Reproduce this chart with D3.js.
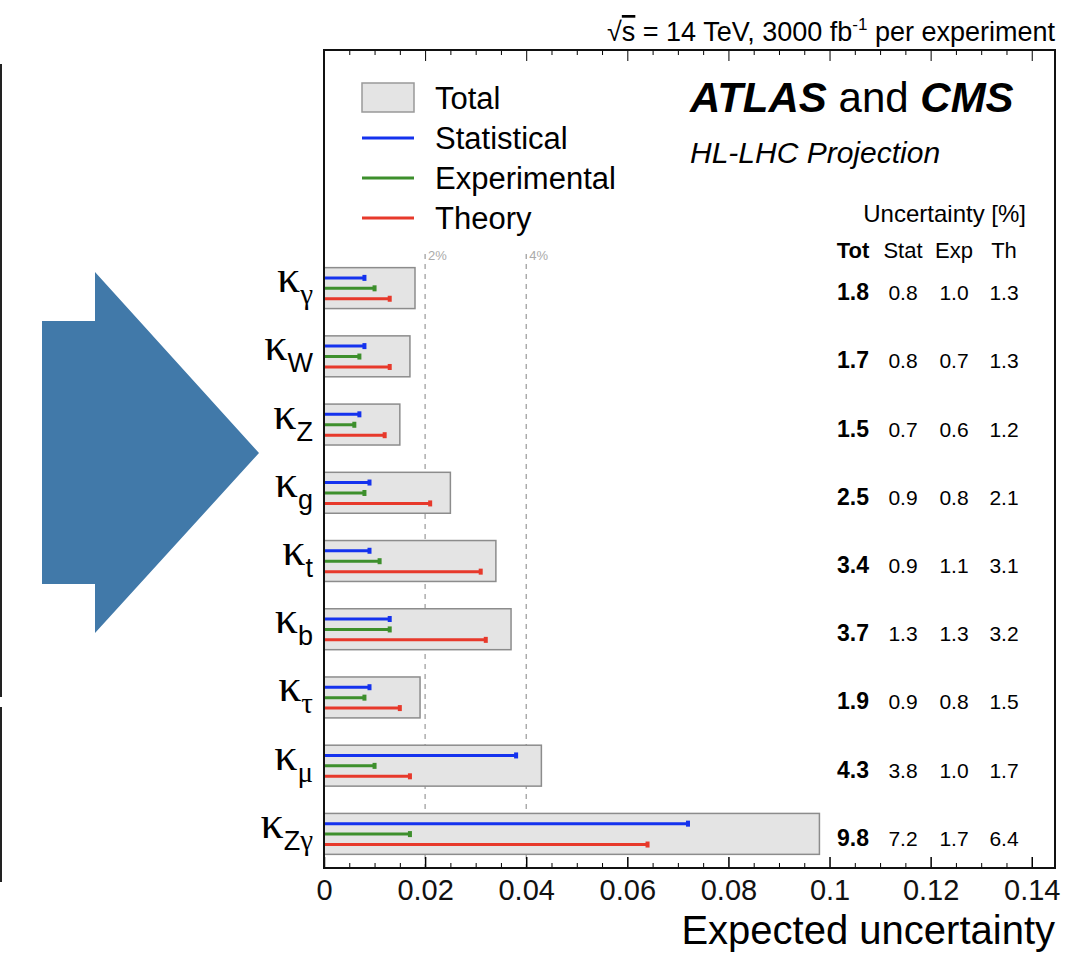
<!DOCTYPE html>
<html>
<head>
<meta charset="utf-8">
<script src="https://cdn.jsdelivr.net/npm/d3@7"></script>
<style>
  body { margin: 0; background: #fff; }
  svg { display: block; font-family: "Liberation Sans", Arial, Helvetica, sans-serif; }
</style>
</head>
<body>
<div id="vis-container"></div>
<script>
// Coupling modifiers (subscripts of kappa)
const couplings = ["γ", "W", "Z", "g", "t", "b", "τ", "μ", "Zγ"];
// Uncertainties in %
const totalUnc = [1.8, 1.7, 1.5, 2.5, 3.4, 3.7, 1.9, 4.3, 9.8];
const statUnc = [0.8, 0.8, 0.7, 0.9, 0.9, 1.3, 0.9, 3.8, 7.2];
const expUnc = [1.0, 0.7, 0.6, 0.8, 1.1, 1.3, 0.8, 1.0, 1.7];
const thUnc = [1.3, 1.3, 1.2, 2.1, 3.1, 3.2, 1.5, 1.7, 6.4];
const seriesNames = ["Statistical", "Experimental", "Theory"];
const seriesColors = ["#1432ee", "#3d8f2c", "#e7392b"];
const xTicks = [0, 0.02, 0.04, 0.06, 0.08, 0.1, 0.12, 0.14];
const guideLines = [0.02, 0.04];
const tableHeader = ["Tot", "Stat", "Exp", "Th"];

const width = 1085;
const height = 954;
const margin = { top: 50, right: 30, bottom: 86, left: 324 };

const svg = d3.select("#vis-container")
  .append("svg")
  .attr("width", width)
  .attr("height", height);

// Slide leftovers: thin edge line and blue arrow
svg.append("rect").attr("x", 0).attr("y", 64).attr("width", 2).attr("height", 633).attr("fill", "#222");
svg.append("rect").attr("x", 0).attr("y", 707).attr("width", 2).attr("height", 175).attr("fill", "#222");
svg.append("path")
  .attr("d", "M42,321 L95,321 L95,272 L259,453 L95,633 L95,584 L42,584 Z")
  .attr("fill", "#4179a9");

const plotBottom = height - margin.bottom;
const plotRight = width - margin.right;

// X scale
const xScale = d3.scaleLinear()
  .domain([0, 0.1446])
  .range([margin.left, plotRight]);

// Y band scale for the rows
const yScale = d3.scaleBand()
  .domain(couplings)
  .range([254, plotBottom])
  .paddingInner(0.4)
  .paddingOuter(0.2);

const bw = yScale.bandwidth();
const subScale = d3.scalePoint()
  .domain(seriesNames)
  .range([bw * 0.25, bw * 0.76]);

const rows = couplings.map((c, i) => ({
  name: c,
  tot: totalUnc[i],
  vals: [statUnc[i], expUnc[i], thUnc[i]]
}));

// Dashed guide lines at 2% and 4%
guideLines.forEach((g) => {
  svg.append("line")
    .attr("x1", xScale(g)).attr("x2", xScale(g))
    .attr("y1", 254).attr("y2", plotBottom)
    .attr("stroke", "#999")
    .attr("stroke-width", 1.2)
    .attr("stroke-dasharray", "5,5");
  svg.append("text")
    .attr("x", xScale(g) + 3)
    .attr("y", 260)
    .attr("font-size", 13)
    .attr("fill", "#aaa")
    .text(Math.round(g * 100) + "%");
});

// Total boxes
svg.selectAll(".tot")
  .data(rows)
  .enter()
  .append("rect")
  .attr("class", "tot")
  .attr("x", xScale(0))
  .attr("y", (d) => yScale(d.name))
  .attr("width", (d) => xScale(d.tot / 100) - xScale(0))
  .attr("height", bw)
  .attr("fill", "#e4e4e4")
  .attr("stroke", "#8c8c8c")
  .attr("stroke-width", 1.5);

// Component lines with end markers
rows.forEach((r) => {
  r.vals.forEach((v, j) => {
    const y = yScale(r.name) + subScale(seriesNames[j]);
    svg.append("line")
      .attr("x1", xScale(0)).attr("x2", xScale(v / 100))
      .attr("y1", y).attr("y2", y)
      .attr("stroke", seriesColors[j])
      .attr("stroke-width", 3);
    svg.append("rect")
      .attr("x", xScale(v / 100) - 2)
      .attr("y", y - 3)
      .attr("width", 4)
      .attr("height", 6)
      .attr("fill", seriesColors[j]);
  });
});

// Y labels: kappa with subscript
const labels = svg.selectAll(".ylab")
  .data(rows)
  .enter()
  .append("text")
  .attr("class", "ylab")
  .attr("x", 313)
  .attr("y", (d) => yScale(d.name) + bw / 2 + 4)
  .attr("text-anchor", "end");
labels.append("tspan")
  .attr("font-family", "'Liberation Serif', 'Times New Roman', serif")
  .attr("font-size", 46)
  .text("κ");
labels.each(function (d) {
  const t = d3.select(this);
  d.name.split("").forEach((ch, k) => {
    const greek = /[\u0370-\u03ff]/.test(ch);
    t.append("tspan")
      .attr("dy", k === 0 ? 12 : 0)
      .attr("font-size", greek ? 29 : 27)
      .attr("font-family", greek ? "'Liberation Serif', 'Times New Roman', serif" : null)
      .text(ch);
  });
});

// Table of numbers
const colX = [853, 903, 954, 1004];
tableHeader.forEach((h, k) => {
  svg.append("text")
    .attr("x", colX[k])
    .attr("y", 258)
    .attr("text-anchor", "middle")
    .attr("font-size", 22)
    .attr("font-weight", k === 0 ? "bold" : null)
    .text(h);
});
svg.append("text")
  .attr("x", 1026)
  .attr("y", 222)
  .attr("text-anchor", "end")
  .attr("font-size", 24)
  .text("Uncertainty [%]");

rows.forEach((r) => {
  [r.tot].concat(r.vals).forEach((v, k) => {
    svg.append("text")
      .attr("x", colX[k])
      .attr("y", yScale(r.name) + bw / 2 + 12)
      .attr("text-anchor", "middle")
      .attr("font-size", k === 0 ? 23 : 21)
      .attr("font-weight", k === 0 ? "bold" : null)
      .text(v.toFixed(1));
  });
});

// Axes: bottom with inward ticks, top mirrored
const minorTicks = d3.range(0, 0.1446, 0.005).filter((t) => Math.abs((t / 0.02) - Math.round(t / 0.02)) > 1e-6);

svg.append("g")
  .attr("transform", `translate(0,${plotBottom})`)
  .call(d3.axisBottom(xScale).tickValues(minorTicks).tickSize(-5).tickFormat(""))
  .call((g) => g.select(".domain").remove());
svg.append("g")
  .attr("transform", `translate(0,${margin.top})`)
  .call(d3.axisTop(xScale).tickValues(minorTicks).tickSize(-5).tickFormat(""))
  .call((g) => g.select(".domain").remove());
svg.append("g")
  .attr("transform", `translate(0,${margin.top})`)
  .call(d3.axisTop(xScale).tickValues(xTicks).tickSize(-11).tickFormat(""))
  .call((g) => g.select(".domain").remove());

svg.append("g")
  .attr("transform", `translate(0,${plotBottom})`)
  .call(d3.axisBottom(xScale).tickValues(xTicks).tickSize(-11).tickPadding(11).tickFormat(d3.format("~g")))
  .call((g) => g.select(".domain").remove())
  .call((g) => g.selectAll(".tick line").attr("stroke-width", 1.5))
  .call((g) => g.selectAll("text").attr("font-size", 29).attr("font-family", "'Liberation Sans', Arial, sans-serif").attr("fill", "#111"));

// Frame
svg.append("rect")
  .attr("x", margin.left)
  .attr("y", margin.top)
  .attr("width", plotRight - margin.left)
  .attr("height", plotBottom - margin.top)
  .attr("fill", "none")
  .attr("stroke", "#111")
  .attr("stroke-width", 2);

// Axis title
svg.append("text")
  .attr("x", plotRight)
  .attr("y", 944)
  .attr("text-anchor", "end")
  .attr("font-size", 40)
  .text("Expected uncertainty");

// Energy / lumi header
const head = svg.append("text")
  .attr("x", plotRight)
  .attr("y", 41)
  .attr("text-anchor", "end")
  .attr("font-size", 27);
head.append("tspan").text("√");
head.append("tspan").style("text-decoration", "overline").text("s");
head.append("tspan").text(" = 14 TeV, 3000 fb");
head.append("tspan").attr("dy", -11).attr("font-size", 17).text("-1");
head.append("tspan").attr("dy", 11).text(" per experiment");

// Legend
svg.append("rect")
  .attr("x", 362).attr("y", 83)
  .attr("width", 52).attr("height", 29)
  .attr("fill", "#e4e4e4")
  .attr("stroke", "#999")
  .attr("stroke-width", 1.5);
const legendY = [98, 138, 178, 218];
["Total"].concat(seriesNames).forEach((n, k) => {
  if (k > 0) {
    svg.append("line")
      .attr("x1", 362).attr("x2", 414)
      .attr("y1", legendY[k]).attr("y2", legendY[k])
      .attr("stroke", seriesColors[k - 1])
      .attr("stroke-width", 3);
  }
  svg.append("text")
    .attr("x", 435)
    .attr("y", legendY[k] + 11)
    .attr("font-size", 31)
    .text(n);
});

// Experiment label
const exp = svg.append("text")
  .attr("x", 690)
  .attr("y", 112)
  .attr("font-size", 42);
exp.append("tspan").attr("font-weight", "bold").attr("font-style", "italic").text("ATLAS");
exp.append("tspan").text(" and ");
exp.append("tspan").attr("font-weight", "bold").attr("font-style", "italic").text("CMS");

svg.append("text")
  .attr("x", 690)
  .attr("y", 163)
  .attr("font-size", 30)
  .attr("font-style", "italic")
  .text("HL-LHC Projection");
</script>
</body>
</html>
